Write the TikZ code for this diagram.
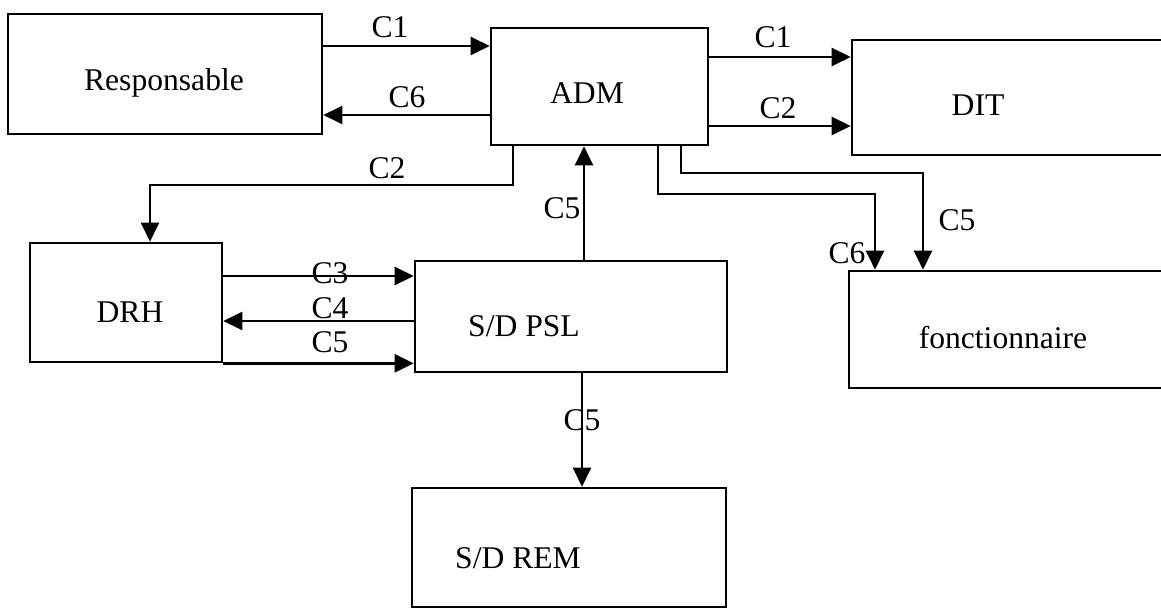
\documentclass[tikz,border=0pt]{standalone}
\usepackage{fontspec}
\setmainfont{Liberation Serif}
\usetikzlibrary{arrows.meta, positioning, calc}

\begin{document}
\begin{tikzpicture}[x=0.5pt, y=-0.5pt,
    bx/.style={draw, line width=1.3pt, inner sep=0pt},
    tx/.style={font=\fontsize{15.8}{18}\selectfont, inner sep=0pt},
    ar/.style={line width=1.2pt, -{Triangle[length=9.5pt, width=9pt]}}]
    \clip (0,0) rectangle (1161,615);
    \node[bx, minimum width=157pt, minimum height=60pt] (resp) at (165,74) {};
    \node[bx, minimum width=108.5pt, minimum height=58.5pt] (adm) at (599.5,86.5) {};
    \node[bx, minimum width=164pt, minimum height=57.5pt] (dit) at (1016,97.5) {};
    \node[bx, minimum width=96pt, minimum height=59.5pt] (drh) at (126,302.5) {};
    \node[bx, minimum width=156pt, minimum height=55.5pt] (psl) at (571,316.5) {};
    \node[bx, minimum width=165.5pt, minimum height=58.5pt] (fonc) at (1014.5,329.5) {};
    \node[bx, minimum width=157pt, minimum height=59.5pt] (rem) at (569,547.5) {};
    \node[tx] (resp-t) at (164,83) {Responsable};
    \node[tx] (adm-t) at (587,93) {ADM};
    \node[tx] (dit-t) at (978,105) {DIT};
    \node[tx] (drh-t) at (130,312) {DRH};
    \node[tx] (psl-t) at (524,326) {S/D PSL};
    \node[tx] (fonc-t) at (1003,338) {fonctionnaire};
    \node[tx] (rem-t) at (518,558) {S/D REM};
    \draw[ar] (resp.east |- 0,46) -- (adm.west |- 0,46);
    \draw[ar] (adm.west |- 0,115) -- (resp.east |- 0,115);
    \draw[ar] (adm.east |- 0,57) -- (dit.west |- 0,57);
    \draw[ar] (adm.east |- 0,126) -- (dit.west |- 0,126);
    \draw[ar] (adm.south -| 513,0) -- (513,185) -| (drh.north -| 150,0);
    \draw[ar] (adm.south -| 658,0) -- (658,194) -| (fonc.north -| 875,0);
    \draw[ar] (adm.south -| 681,0) -- (681,173) -| (fonc.north -| 923,0);
    \draw[ar] (psl.north -| 584,0) -- (adm.south -| 584,0);
    \draw[ar] (drh.east |- 0,276) -- (psl.west |- 0,276);
    \draw[ar] (psl.west |- 0,321) -- (drh.east |- 0,321);
    \draw[ar] (drh.south east) -- (psl.west |- drh.south east);
    \draw[ar] (psl.south -| 582,0) -- (rem.north -| 582,0);
    \foreach \n/\x/\y/\t in {l1/390/27/C1, l2/407/97/C6, l3/387/168/C2, l4/773/37/C1,
        l5/778/108/C2, l6/562/208/C5, l7/847/253/C6, l8/957/220/C5,
        l9/330/273/C3, l10/330/308/C4, l11/330/342/C5, l12/582/420/C5} {
        \node[tx] (\n) at (\x,\y) {\t};
    }
\end{tikzpicture}
\end{document}
